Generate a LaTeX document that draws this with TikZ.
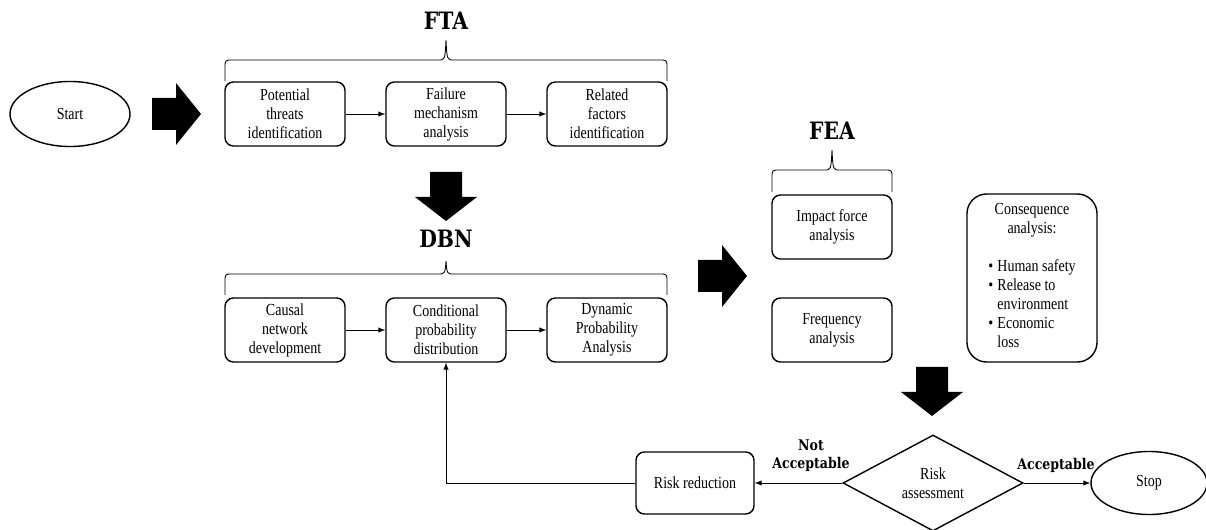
\documentclass[tikz,border=0pt]{standalone}
\usepackage{fontspec}
\setmainfont{Liberation Serif}[FakeStretch=0.83]
\newfontfamily\slabfont{DejaVu Serif}[FakeStretch=0.85]
\usetikzlibrary{arrows,positioning,shapes,calc}

\tikzset{
  stepbox/.style={draw,rounded corners=6pt,line width=1pt,minimum width=3cm,minimum height=1.6cm,
    align=center,inner sep=2pt,font=\fontsize{12}{13.5}\selectfont},
  oval/.style={draw,ellipse,line width=1pt,minimum width=3cm,minimum height=1.625cm,
    font=\fontsize{12}{13.5}\selectfont},
  decision/.style={draw,diamond,line width=1pt,minimum width=4.5cm,minimum height=2.4cm,
    inner sep=0pt,align=center,font=\fontsize{12}{13.5}\selectfont},
  heading/.style={font=\slabfont\bfseries\fontsize{17}{20}\selectfont},
  verdict/.style={font=\slabfont\bfseries\fontsize{10.5}{13}\selectfont,align=center,inner sep=0pt},
  flow/.style={-latex,line width=0.7pt}
}

% fat block arrows, (x,y) is where the head starts
\newcommand{\fatright}[2]{\fill (#1-24,#2-16) -- (#1,#2-16) -- (#1,#2-31) -- (#1+25,#2) -- (#1,#2+31) -- (#1,#2+16) -- (#1-24,#2+16) -- cycle;}
\newcommand{\fatdown}[2]{\fill (#1-16,#2-25) -- (#1-16,#2) -- (#1-31,#2) -- (#1,#2+24) -- (#1+31,#2) -- (#1+16,#2) -- (#1+16,#2-25) -- cycle;}
% curly brace over a group: x1, x2, y of ends, y of bar, y of tip
\newcommand{\capbrace}[5]{\draw[line width=0.6pt] (#1,#3) -- (#1,#4+8) .. controls (#1,#4) .. (#1+8,#4)
  -- ({(#1+#2)/2-8},#4) .. controls ({(#1+#2)/2-1},#4) .. ({(#1+#2)/2},#5)
  .. controls ({(#1+#2)/2+1},#4) .. ({(#1+#2)/2+8},#4) -- (#2-8,#4) .. controls (#2,#4) .. (#2,#4+8) -- (#2,#3);}

\begin{document}
\begin{tikzpicture}[x=0.025cm,y=-0.025cm]
\useasboundingbox (0,0) rectangle (1206,530);

% FTA
\node[oval] (start) at (70,114) {Start};
\fatright{176}{114}
\node[heading] (fta) at (446,21) {FTA};
\node[stepbox] (threats) at (285,114) {Potential\\threats\\identification};
\node[stepbox] (mech) at (446,114) {Failure\\mechanism\\analysis};
\node[stepbox] (factors) at (607,114) {Related\\factors\\identification};
\capbrace{225}{667}{81}{60}{40}
\draw[flow] (threats) -- (mech);
\draw[flow] (mech) -- (factors);

% DBN
\fatdown{446}{197}
\node[heading] (dbn) at (446,239) {DBN};
\node[stepbox] (causal) at (285,330) {Causal\\network\\development};
\node[stepbox] (cpd) at (446,330) {Conditional\\probability\\distribution};
\node[stepbox] (dpa) at (607,330) {Dynamic\\Probability\\Analysis};
\capbrace{225}{667}{295}{274}{261}
\draw[flow] (causal) -- (cpd);
\draw[flow] (cpd) -- (dpa);

% FEA
\fatright{722}{276}
\node[heading] (fea) at (832,131) {FEA};
\node[stepbox] (impact) at (832,227) {Impact force\\analysis};
\node[stepbox] (freq) at (832,330) {Frequency\\analysis};
\capbrace{772}{892}{192}{170}{150}
\node[stepbox,rounded corners=14pt,minimum width=3.25cm,minimum height=4.2cm] (conseq) at (1032,278)
  {Consequence\\analysis:\\[13.5pt]\begin{tabular}[t]{@{}l@{\hspace{3pt}}l@{}}
  •&Human safety\\ •&Release to\\ &environment\\ •&Economic\\ &loss\end{tabular}};

% risk assessment loop
\fatdown{932}{392}
\node[decision] (assess) at (933,483) {Risk\\assessment};
\node[stepbox,minimum width=2.95cm,minimum height=1.55cm] (reduce) at (695,483) {Risk reduction};
\node[oval,minimum width=2.9cm,minimum height=1.575cm] (stop) at (1149,483) {Stop};
\node[verdict] (notok) at (811,456) {Not\\Acceptable};
\node[verdict] (ok) at (1056,465) {Acceptable};
\draw[flow] (assess.west) -- (reduce.east);
\draw[flow] (assess.east) -- (stop.west);
\draw[flow] (reduce.west) -| (cpd.south);
\end{tikzpicture}
\end{document}
